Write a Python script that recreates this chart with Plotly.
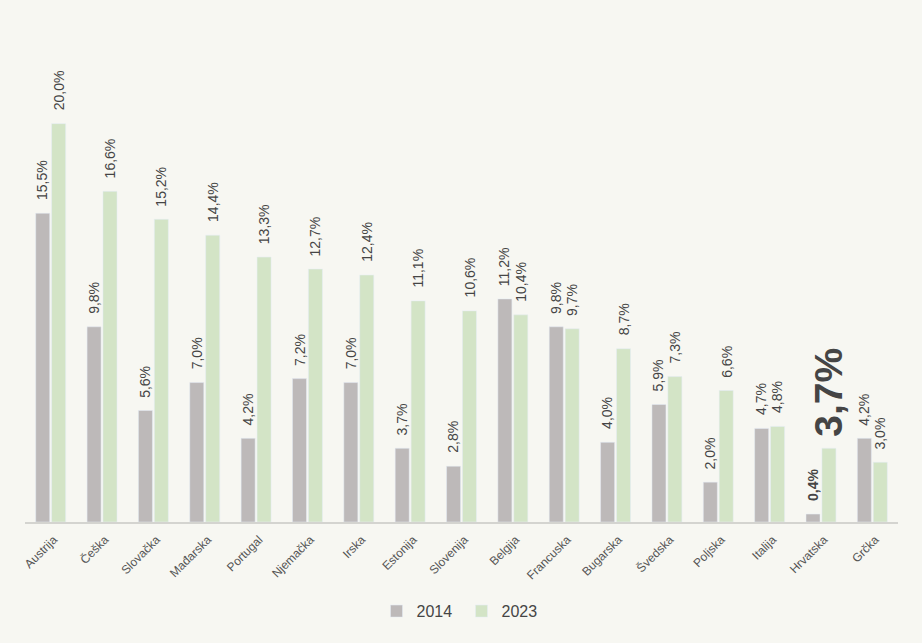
import plotly.graph_objects as go

countries = ["Austrija", "Češka", "Slovačka", "Mađarska", "Portugal", "Njemačka", "Irska",
             "Estonija", "Slovenija", "Belgija", "Francuska", "Bugarska", "Švedska", "Poljska",
             "Italija", "Hrvatska", "Grčka"]
v2014 = [15.5, 9.8, 5.6, 7.0, 4.2, 7.2, 7.0, 3.7, 2.8, 11.2, 9.8, 4.0, 5.9, 2.0, 4.7, 0.4, 4.2]
v2023 = [20.0, 16.6, 15.2, 14.4, 13.3, 12.7, 12.4, 11.1, 10.6, 10.4, 9.7, 8.7, 7.3, 6.6, 4.8, 3.7, 3.0]
highlight = "Hrvatska"

GRAY = "#bdb9b9"
GREEN = "#d3e4c6"
TXT = "#454545"


def fmt(v):
    return f"{v:.1f}".replace(".", ",") + "%"


fig = go.Figure()
fig.add_trace(go.Bar(x=countries, y=v2014, name="2014", marker_color=GRAY, hoverinfo="skip"))
fig.add_trace(go.Bar(x=countries, y=v2023, name="2023", marker_color=GREEN, hoverinfo="skip"))

annotations = []
for vals, shift, big in ((v2014, -8, False), (v2023, 8, True)):
    for c, v in zip(countries, vals):
        if c == highlight:
            txt = "<b>" + fmt(v) + "</b>"
            size = 39 if big else 14
            ys = 10 if big else 11
        else:
            txt = fmt(v)
            size = 14
            ys = 11
        annotations.append(dict(
            x=c, y=v, xref="x", yref="y", text=txt, showarrow=False, textangle=-90,
            xanchor="center", yanchor="bottom", xshift=shift, yshift=ys,
            font=dict(size=size, color=TXT, family="Liberation Sans")))

fig.update_layout(
    width=922, height=643,
    margin=dict(l=25, r=24, t=40, b=121),
    paper_bgcolor="#f7f7f2", plot_bgcolor="#f7f7f2",
    barmode="group", bargap=0.38, bargroupgap=0.12,
    font=dict(family="Liberation Sans", color=TXT),
    showlegend=True,
    legend=dict(orientation="h", x=0.5, xanchor="center", y=-0.185, yanchor="middle",
                font=dict(size=16, color=TXT), entrywidth=40, traceorder="normal"),
    xaxis=dict(tickangle=-45, tickfont=dict(size=12, color="#555555"),
               ticklabelstandoff=4, ticklabelshift=3,
               showline=True, linecolor="#d4d4d0", linewidth=2, ticks="", showgrid=False),
    yaxis=dict(range=[0, 24.2], visible=False, showgrid=False, zeroline=False),
    annotations=annotations,
)

fig.write_html("out.html", config={"displayModeBar": False},
               post_script="document.body.style.margin='0';document.body.style.background='#f7f7f2';")
